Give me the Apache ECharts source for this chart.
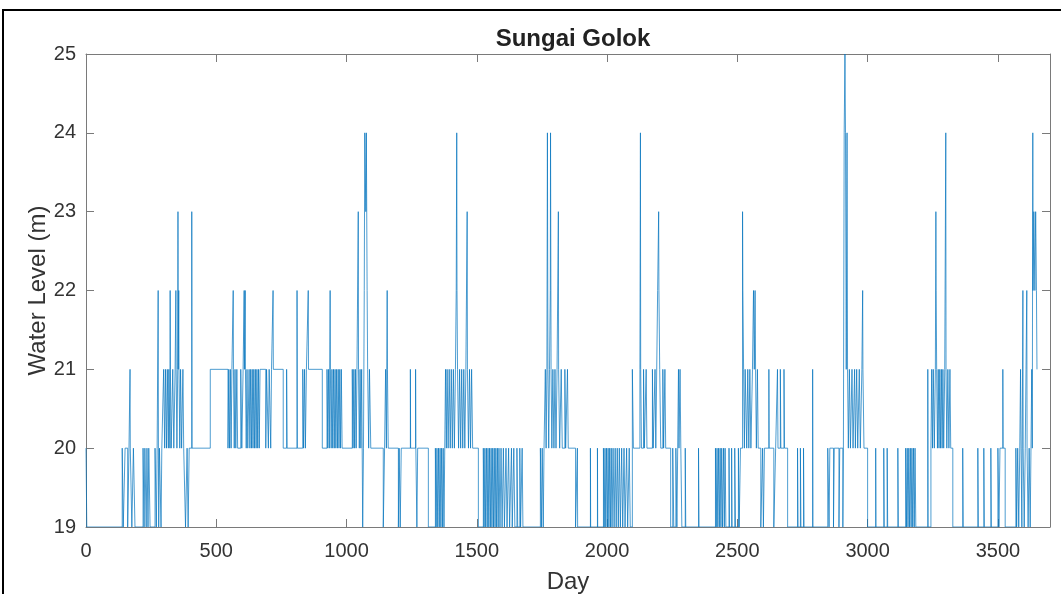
<!DOCTYPE html>
<html>
<head>
<meta charset="utf-8">
<script src="https://cdn.jsdelivr.net/npm/echarts@6/dist/echarts.min.js"></script>
<style>
html,body{margin:0;padding:0;background:#fff;}
#c{width:1061px;height:594px;}
</style>
</head>
<body>
<div id="c"></div>
<script>
const chartTitle = 'Sungai Golok';
const xName = 'Day';
const yName = 'Water Level (m)';
const xTicks = [0, 500, 1000, 1500, 2000, 2500, 3000, 3500];
const yTicks = [19, 20, 21, 22, 23, 24, 25];

// [day, water level] at each change of the daily reading (held until next change)
const levelChanges = [
[0,20],[3,19],
[139,20],[143,19],[150,20],[160,19],[165,20],[169,21],[170,20],[176,19],[182,20],[188,19],
[219,20],[223,19],[226,20],[231,19],[234,20],[238,19],[241,20],[246,19],
[265,20],[270,19],[273,20],[277,22],[278,20],[279,19],[282,20],[288,19],[291,20],
[298,21],[302,20],[305,21],[309,20],[312,21],[316,20],[318,21],[322,20],[323,22],[324,21],[327,20],
[333,21],[337,20],[342,21],[345,22],[346,21],[349,20],[352,21],[353,23],[354,21],[356,22],[357,21],[360,20],[363,21],[367,20],[372,21],[375,20],
[382,19],[388,20],[392,19],[396,20],[406,23],[407,20],
[477,21],
[545,20],[548,21],[551,20],[554,21],[557,20],[560,21],[565,22],[566,21],[569,20],[572,21],[575,20],[579,21],[582,20],
[594,21],[598,20],[603,21],[607,22],[608,21],[611,22],[612,21],[615,20],[618,21],[621,20],
[626,21],[629,20],[632,21],[635,20],[638,21],[641,20],[644,21],[647,20],[650,21],[653,20],[656,21],[659,20],[662,21],[665,20],[668,21],
[690,20],[693,21],[700,20],[703,21],[709,20],[712,21],[718,22],[719,21],
[757,20],[770,21],[772,20],[810,22],[811,20],
[832,21],[835,20],[839,21],[842,20],[846,21],[853,22],[854,21],
[907,20],[925,21],[928,20],[931,21],[934,20],[937,22],[938,21],[941,20],[944,21],[947,20],[950,21],[953,20],[956,21],[959,20],[962,21],[965,20],[968,21],[971,20],[974,21],[977,20],[980,21],[983,20],
[1022,21],[1025,20],[1028,21],[1031,20],[1034,21],[1037,20],[1040,21],[1045,23],[1046,21],[1049,20],[1052,21],[1055,20],[1058,21],[1060,20],[1062,19],[1065,20],[1068,22],[1070,24],[1074,23],[1076,24],[1079,22],[1081,21],[1085,20],[1088,21],[1093,20],
[1141,19],[1146,20],[1150,21],[1153,20],[1156,22],[1157,21],[1160,20],
[1199,19],[1202,20],[1206,19],[1210,20],[1245,21],[1246,20],[1265,21],[1266,20],[1270,19],[1273,20],
[1314,19],
[1341,20],[1344,19],[1347,20],[1350,19],[1353,20],[1356,19],[1359,20],[1362,19],[1365,20],[1368,19],[1371,20],[1374,19],[1377,20],[1380,21],[1383,20],[1386,21],[1390,20],[1394,21],[1398,20],[1402,21],[1406,20],[1410,21],[1414,20],[1418,21],[1421,22],[1423,24],[1424,22],[1426,21],[1430,20],[1434,21],[1438,20],[1442,21],[1446,20],[1450,21],[1454,20],[1458,21],[1463,23],[1464,21],[1468,20],[1472,21],[1476,20],[1480,21],[1484,20],
[1506,19],
[1525,20],[1528,19],[1531,20],[1534,19],[1537,20],[1540,19],[1543,20],[1546,19],[1549,20],[1552,19],[1555,20],[1558,19],[1561,20],[1564,19],[1567,20],[1570,19],[1573,20],[1576,19],[1579,20],[1582,19],[1585,20],[1589,19],[1593,20],[1597,19],[1602,20],[1606,19],[1612,20],[1616,19],[1622,20],[1626,19],[1633,20],[1636,19],[1642,20],[1646,19],[1654,20],[1657,19],[1665,20],[1668,19],[1674,20],[1677,19],
[1744,20],[1748,19],[1751,20],[1755,19],[1758,20],
[1763,21],[1766,20],[1769,21],[1771,24],[1773,21],[1776,20],[1779,21],[1782,22],[1783,24],[1785,21],[1788,20],[1792,21],[1796,20],[1800,21],[1804,20],[1808,21],[1813,23],[1814,21],[1818,20],[1824,21],[1828,20],[1838,21],[1841,20],[1848,21],[1851,20],
[1879,19],[1886,20],[1887,19],[1936,20],[1937,19],[1963,20],[1964,19],
[1986,20],[1989,19],[1992,20],[1995,19],[1998,20],[2001,19],[2004,20],[2007,19],[2010,20],[2013,19],[2016,20],[2019,19],[2023,20],[2027,19],[2031,20],[2035,19],[2039,20],[2043,19],[2047,20],[2051,19],[2056,20],[2060,19],[2065,20],[2069,19],[2075,20],[2079,19],[2085,20],[2089,19],
[2097,21],[2101,20],
[2126,21],[2128,24],[2129,21],[2132,20],[2140,21],[2143,20],[2150,21],[2153,20],[2174,21],[2177,20],[2184,21],[2187,20],[2194,22],[2198,23],[2199,22],[2202,21],[2206,20],[2214,21],[2217,20],[2222,21],[2225,20],
[2244,19],[2252,20],[2256,19],[2264,20],[2268,19],[2271,20],[2274,21],[2276,20],[2280,21],[2283,20],[2287,19],
[2300,20],[2302,19],[2351,20],[2353,19],
[2416,20],[2419,19],[2422,20],[2425,19],[2428,20],[2431,19],[2434,20],[2437,19],[2440,20],[2443,19],[2447,20],[2450,19],[2453,20],[2456,19],
[2468,20],[2470,19],[2478,20],[2480,19],[2490,20],[2493,19],[2504,20],[2507,19],[2512,20],
[2520,23],[2521,22],[2524,21],[2527,20],[2530,21],[2536,20],[2540,21],[2544,20],[2548,21],[2552,20],[2558,21],[2562,22],[2565,21],[2568,22],[2570,21],[2573,20],[2577,21],[2580,20],
[2590,19],[2597,20],[2600,19],[2604,20],
[2621,21],[2622,20],[2640,19],[2647,20],[2654,21],[2656,20],[2665,21],[2667,20],[2679,21],[2681,20],[2693,19],
[2731,20],[2733,19],[2742,20],[2744,19],[2754,20],[2756,19],[2789,21],[2790,19],
[2847,20],[2852,19],[2855,20],[2869,19],[2872,20],[2890,19],[2893,20],[2905,19],[2907,20],
[2910,24],[2913,25],[2915,24],[2918,21],[2921,24],[2923,21],[2926,20],
[2930,21],[2934,20],[2940,21],[2944,20],[2950,21],[2953,20],[2958,21],[2962,20],[2968,21],[2972,20],[2978,21],[2981,22],[2982,21],[2986,20],
[3000,19],[3031,20],[3032,19],[3062,20],[3064,19],[3075,20],[3077,19],[3116,20],[3118,19],
[3146,20],[3149,19],[3152,20],[3155,19],[3158,20],[3161,19],[3164,20],[3167,19],[3170,20],[3173,19],[3176,20],[3179,19],[3182,20],[3185,19],
[3231,21],[3232,19],
[3243,20],[3246,21],[3249,20],[3252,21],[3256,20],[3260,21],[3262,23],[3263,22],[3265,21],[3268,20],[3271,21],[3274,20],[3277,21],[3280,20],[3283,21],[3286,20],[3289,21],[3292,20],[3296,21],[3300,24],[3301,21],[3304,20],[3308,21],[3312,20],[3316,21],[3319,20],[3327,19],
[3365,20],[3367,19],[3423,20],[3425,19],[3446,20],[3448,19],[3473,20],[3475,19],
[3500,20],[3504,19],[3508,20],[3519,21],[3520,20],[3528,19],
[3569,20],[3572,19],[3576,20],[3580,19],[3584,20],[3587,21],[3589,20],[3592,19],[3596,22],[3597,20],[3601,19],[3605,20],[3608,21],[3611,22],[3612,20],[3616,19],[3620,20],[3624,19],[3627,20],[3630,21],[3632,20],[3634,24],[3635,22],[3638,23],[3642,22],[3645,23],[3648,22],[3650,21],[3652,21]
];

const axisColor = '#7a7a7a';
const textColor = '#333333';
const fontFamily = '"Liberation Sans", Arial, sans-serif';

const chart = echarts.init(document.getElementById('c'), null, {renderer: 'canvas'});
const xCommon = {
  type: 'value', min: 0, max: 3700, interval: 500,
  splitLine: {show: false},
  axisLine: {show: true, onZero: false, lineStyle: {color: axisColor, width: 1}},
  axisTick: {show: true, inside: true, length: 8, customValues: xTicks, lineStyle: {color: axisColor}}
};
const yCommon = {
  type: 'value', min: 19, max: 25, interval: 1,
  splitLine: {show: false},
  axisLine: {show: true, onZero: false, lineStyle: {color: axisColor, width: 1}},
  axisTick: {show: true, inside: true, length: 8, customValues: yTicks, lineStyle: {color: axisColor}}
};
chart.setOption({
  animation: false,
  backgroundColor: '#ffffff',
  title: {
    text: chartTitle, left: 568, top: 22, textAlign: 'center',
    textStyle: {fontFamily: fontFamily, fontSize: 24, fontWeight: 'bold', color: '#222'}
  },
  grid: {left: 86, right: 11, top: 54, bottom: 67, containLabel: false, outerBoundsMode: 'none'},
  xAxis: [
    Object.assign({}, xCommon, {
      position: 'bottom', name: xName, nameLocation: 'middle', nameGap: 43, nameMoveOverlap: false,
      nameTextStyle: {fontFamily: fontFamily, fontSize: 24, color: textColor},
      axisLabel: {show: true, customValues: xTicks, margin: 14, fontFamily: fontFamily, fontSize: 20, color: textColor,
        formatter: function (v) { return String(v); }}
    }),
    Object.assign({}, xCommon, {position: 'top', axisLabel: {show: false}})
  ],
  yAxis: [
    Object.assign({}, yCommon, {
      position: 'left', name: yName, nameLocation: 'middle', nameGap: 36, nameRotate: 90, nameMoveOverlap: false,
      nameTextStyle: {fontFamily: fontFamily, fontSize: 24, color: textColor},
      axisLabel: {show: true, customValues: yTicks, margin: 10, fontFamily: fontFamily, fontSize: 20, color: textColor,
        formatter: function (v) { return String(v); }}
    }),
    Object.assign({}, yCommon, {position: 'right', axisLabel: {show: false}})
  ],
  series: [{
    type: 'line', xAxisIndex: 0, yAxisIndex: 0,
    step: 'end', showSymbol: false, symbol: 'none',
    data: levelChanges,
    lineStyle: {color: '#0072BD', width: 0.7},
    clip: true
  }],
  graphic: [{
    type: 'rect', silent: true, z: 100,
    shape: {x: 3, y: 10, width: 1120, height: 700},
    style: {fill: 'none', stroke: '#000', lineWidth: 2}
  }]
});
</script>
</body>
</html>
